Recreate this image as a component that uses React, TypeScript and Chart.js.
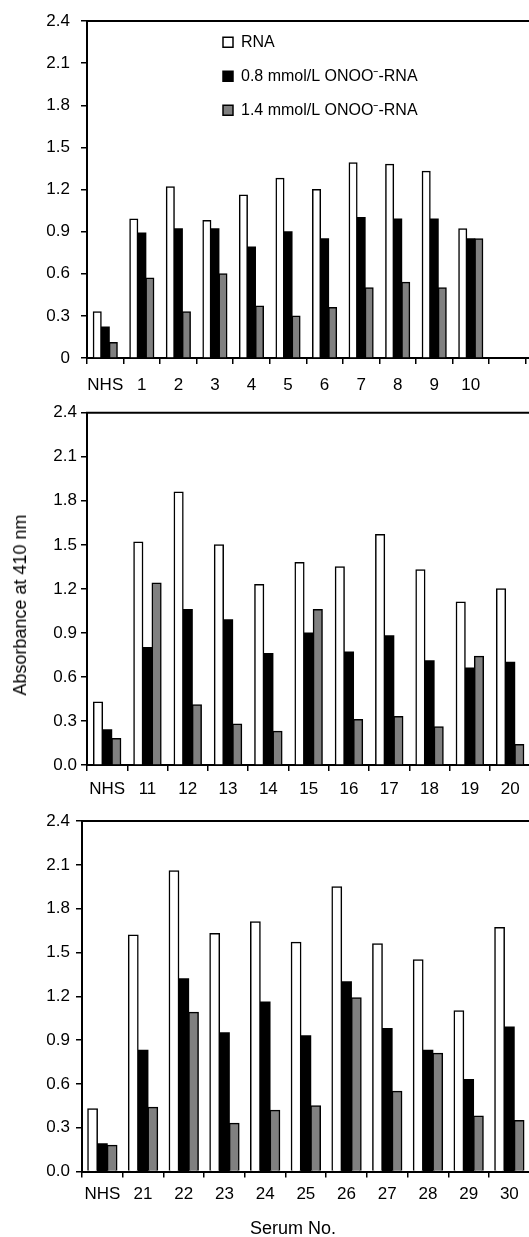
import React, { useEffect, useRef } from 'react';
import { Chart, registerables } from 'chart.js';

Chart.register(...registerables);

// ---------- data ----------
const seriesNames = ['RNA', '0.8 mmol/L ONOO\u207B-RNA', '1.4 mmol/L ONOO\u207B-RNA'];

const categories1 = ['NHS', '1', '2', '3', '4', '5', '6', '7', '8', '9', '10', ''];
const rna1 = [0.33, 0.99, 1.22, 0.98, 1.16, 1.28, 1.2, 1.39, 1.38, 1.33, 0.92, null];
const onoo08_1 = [0.22, 0.89, 0.92, 0.92, 0.79, 0.9, 0.85, 1.0, 0.99, 0.99, 0.85, null];
const onoo14_1 = [0.11, 0.57, 0.33, 0.6, 0.37, 0.3, 0.36, 0.5, 0.54, 0.5, 0.85, null];

const categories2 = ['NHS', '11', '12', '13', '14', '15', '16', '17', '18', '19', '20'];
const rna2 = [0.43, 1.52, 1.86, 1.5, 1.23, 1.38, 1.35, 1.57, 1.33, 1.11, 1.2];
const onoo08_2 = [0.24, 0.8, 1.06, 0.99, 0.76, 0.9, 0.77, 0.88, 0.71, 0.66, 0.7];
const onoo14_2 = [0.18, 1.24, 0.41, 0.28, 0.23, 1.06, 0.31, 0.33, 0.26, 0.74, 0.14];

const categories3 = ['NHS', '21', '22', '23', '24', '25', '26', '27', '28', '29', '30'];
const rna3 = [0.43, 1.62, 2.06, 1.63, 1.71, 1.57, 1.95, 1.56, 1.45, 1.1, 1.67];
const onoo08_3 = [0.19, 0.83, 1.32, 0.95, 1.16, 0.93, 1.3, 0.98, 0.83, 0.63, 0.99];
const onoo14_3 = [0.18, 0.44, 1.09, 0.33, 0.42, 0.45, 1.19, 0.55, 0.81, 0.38, 0.35];

const yTickLabels1 = ['0', '0.3', '0.6', '0.9', '1.2', '1.5', '1.8', '2.1', '2.4'];
const yTickLabels23 = ['0.0', '0.3', '0.6', '0.9', '1.2', '1.5', '1.8', '2.1', '2.4'];

const yTitle = 'Absorbance at 410 nm';
const xTitle = 'Serum No.';

// ---------- styles ----------
const FONT = '"Liberation Sans", Arial, sans-serif';
const fills = ['#ffffff', '#000000', '#808080'];
const borderWidths = [1.5, 0, 1.5];

type PanelCfg = {
  top: number;
  width: number;
  height: number;
  padTop: number;
  padRight: number;
  axisX: number;
  xAxisH: number;
  xTickPad: number;
  yTickPad: number;
  catPct: number;
  labels: string[];
  series: (number | null)[][];
  yLabels: string[];
  legend: boolean;
  hideTickFrom?: number;
  extendBottom?: boolean;
};

const panels: PanelCfg[] = [
  {
    top: 0, width: 560, height: 400, padTop: 21, padRight: 34.4, axisX: 87, xAxisH: 42,
    xTickPad: 11, yTickPad: 11, catPct: 0.66, labels: categories1,
    series: [rna1, onoo08_1, onoo14_1], yLabels: yTickLabels1, legend: true,
    hideTickFrom: 12, extendBottom: true,
  },
  {
    top: 400, width: 560, height: 400, padTop: 12.7, padRight: 29.7, axisX: 87, xAxisH: 35,
    xTickPad: 8, yTickPad: 4, catPct: 0.68, labels: categories2,
    series: [rna2, onoo08_2, onoo14_2], yLabels: yTickLabels23, legend: false,
  },
  {
    top: 800, width: 560, height: 437, padTop: 21, padRight: 30.3, axisX: 82, xAxisH: 65.5,
    xTickPad: 7, yTickPad: 6, catPct: 0.72, labels: categories3,
    series: [rna3, onoo08_3, onoo14_3], yLabels: yTickLabels23, legend: false,
  },
];

function Panel({ cfg }: { cfg: PanelCfg }) {
  const ref = useRef<HTMLCanvasElement | null>(null);

  useEffect(() => {
    if (!ref.current) return;
    const framePlugin = {
      id: 'frame',
      afterLayout(chart: any) {
        if (cfg.legend && chart.legend) {
          const lg = chart.legend;
          lg.left = 205;
          lg.top = 16.3;
          lg.right = lg.left + 320;
          lg.bottom = lg.top + 250;
        }
      },
      afterDraw(chart: any) {
        const { ctx, chartArea } = chart;
        ctx.save();
        ctx.strokeStyle = '#000';
        ctx.lineWidth = 2;
        ctx.beginPath();
        ctx.moveTo(chartArea.left - 1, chartArea.top);
        ctx.lineTo(chart.width, chartArea.top);
        if (cfg.extendBottom) {
          ctx.moveTo(chartArea.right - 1, chartArea.bottom);
          ctx.lineTo(chart.width, chartArea.bottom);
        }
        ctx.stroke();
        ctx.restore();
      },
    };

    const chart = new Chart(ref.current, {
      type: 'bar',
      data: {
        labels: cfg.labels,
        datasets: cfg.series.map((d, i) => ({
          label: seriesNames[i],
          data: d,
          backgroundColor: fills[i],
          borderColor: '#000',
          borderWidth: borderWidths[i],
          borderSkipped: 'bottom',
          inflateAmount: 0.5,
          categoryPercentage: cfg.catPct,
          barPercentage: 1,
        })),
      },
      options: {
        responsive: false,
        animation: false,
        events: [],
        layout: { padding: { left: 0, top: cfg.padTop, right: cfg.padRight, bottom: 0 } },
        plugins: {
          tooltip: { enabled: false },
          legend: {
            display: cfg.legend,
            position: 'chartArea',
            align: 'start',
            labels: {
              boxWidth: 10,
              boxHeight: 10,
              padding: 18,
              color: '#000',
              font: { family: FONT, size: 16 },
              generateLabels: (ch: any) =>
                ch.data.datasets.map((ds: any, i: number) => ({
                  text: ds.label,
                  fillStyle: fills[i],
                  strokeStyle: '#000',
                  lineWidth: 1.5,
                  fontColor: '#000',
                  hidden: false,
                  datasetIndex: i,
                })),
            },
          },
        },
        scales: {
          x: {
            type: 'category',
            offset: true,
            grid: {
              offset: true,
              drawOnChartArea: false,
              drawTicks: true,
              tickLength: 6,
              lineWidth: 1.5,
              color: '#000',
              tickColor: (c: any) =>
                cfg.hideTickFrom !== undefined && c.index >= cfg.hideTickFrom ? 'rgba(0,0,0,0)' : '#000',
            },
            border: { display: true, color: '#000', width: 2 },
            ticks: {
              color: '#000',
              font: { family: FONT, size: 17 },
              padding: cfg.xTickPad,
              autoSkip: false,
              maxRotation: 0,
              minRotation: 0,
            },
            afterFit: (s: any) => {
              s.height = cfg.xAxisH;
              s.paddingLeft = 0;
              s.paddingRight = 0;
            },
          },
          y: {
            type: 'linear',
            min: 0,
            max: 2.4,
            grid: {
              drawOnChartArea: false,
              drawTicks: true,
              tickLength: 6,
              lineWidth: 1.5,
              color: '#000',
            },
            border: { display: true, color: '#000', width: 2 },
            ticks: {
              stepSize: 0.3,
              color: '#000',
              font: { family: FONT, size: 17 },
              padding: cfg.yTickPad,
              callback: (_v: any, i: number) => cfg.yLabels[i],
            },
            afterFit: (s: any) => {
              s.width = cfg.axisX;
              s.paddingTop = 0;
              s.paddingBottom = 0;
            },
          },
        },
      },
      plugins: [framePlugin],
    } as any);

    return () => chart.destroy();
  }, [cfg]);

  return (
    <canvas
      ref={ref}
      width={cfg.width}
      height={cfg.height}
      style={{ position: 'absolute', left: 0, top: cfg.top, width: cfg.width, height: cfg.height }}
    />
  );
}

export default function App() {
  return (
    <div
      style={{
        position: 'absolute',
        left: 0,
        top: 0,
        width: 529,
        height: 1237,
        overflow: 'hidden',
        background: '#fff',
      }}
    >
      {panels.map((p, i) => (
        <Panel key={i} cfg={p} />
      ))}
      <div
        style={{
          position: 'absolute',
          left: 20,
          top: 605,
          transform: 'translate(-50%, -50%) rotate(-90deg)',
          whiteSpace: 'nowrap',
          fontFamily: FONT,
          fontSize: 18,
          lineHeight: 1,
          color: '#000',
        }}
      >
        {yTitle}
      </div>
      <div
        style={{
          position: 'absolute',
          left: 293,
          top: 1227.5,
          transform: 'translate(-50%, -50%)',
          whiteSpace: 'nowrap',
          fontFamily: FONT,
          fontSize: 18,
          lineHeight: 1,
          color: '#000',
        }}
      >
        {xTitle}
      </div>
    </div>
  );
}
